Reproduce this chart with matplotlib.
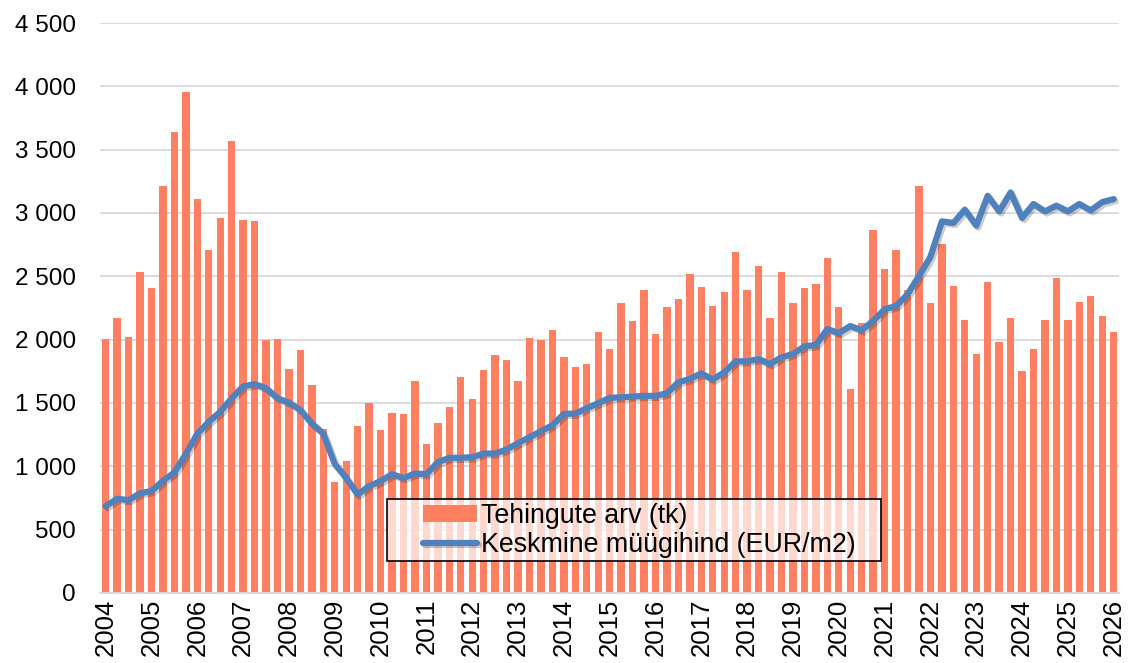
import matplotlib
matplotlib.use("Agg")
import matplotlib.pyplot as plt
import matplotlib.patheffects as pe
from matplotlib.patches import Rectangle
from matplotlib.ticker import FuncFormatter
import numpy as np

plt.rcParams['font.family'] = ['Liberation Sans', 'DejaVu Sans']

years = [str(y) for y in range(2004, 2027)]

tehingud = [2003, 2173, 2021, 2533, 2410, 3214, 3643, 3955, 3113, 2706, 2964, 3566,
            2948, 2937, 1997, 2005, 1771, 1917, 1643, 1292, 879, 1044, 1321,
            1501, 1288, 1422, 1414, 1674, 1180, 1343, 1472, 1703, 1535, 1758, 1882,
            1840, 1671, 2010, 2000, 2073, 1861, 1784, 1808, 2058, 1926,
            2286, 2150, 2394, 2047, 2260, 2318, 2518, 2413, 2265, 2376, 2694, 2394,
            2578, 2173, 2536, 2286, 2405, 2436, 2644, 2260, 1608,
            2135, 2869, 2555, 2706, 2395, 3217, 2287, 2759, 2424, 2156, 1889, 2452,
            1978, 2169, 1753, 1926, 2159, 2489, 2154, 2300, 2342, 2188, 2057]

hind = [685, 744, 733, 787, 805, 885, 952, 1098, 1258, 1351, 1431, 1537, 1631, 1649,
        1617, 1537, 1503, 1444, 1338, 1258, 1018, 907, 777,
        844, 883, 938, 907, 943, 938, 1033, 1067, 1067, 1072, 1101, 1101, 1133, 1183,
        1230, 1277, 1325, 1414, 1416, 1459, 1498, 1541,
        1545, 1551, 1556, 1556, 1577, 1664, 1690, 1734, 1685, 1742, 1829, 1829, 1847,
        1808, 1861, 1887, 1947, 1958, 2084, 2052, 2107,
        2075, 2148, 2240, 2266, 2358, 2502, 2654, 2934, 2921, 3026, 2900, 3136, 3013,
        3162, 2961, 3071, 3013, 3058, 3013, 3071, 3021, 3086, 3110]

bar_label = "Tehingute arv (tk)"
line_label = "Keskmine müügihind (EUR/m2)"

fig = plt.figure(figsize=(11.32, 6.63), dpi=100)
ax = fig.add_axes([0.0883, 0.1056, 0.9006, 0.8597])

x = np.arange(len(tehingud))
bars = ax.bar(x, tehingud, width=0.64, color='#FF7F61', label=bar_label, zorder=2)
line, = ax.plot(x, hind, color='#4F81BD', lw=4.5, label=line_label, zorder=3,
                solid_capstyle='round', solid_joinstyle='round',
                path_effects=[pe.SimpleLineShadow(offset=(1.5, -1.5), alpha=0.2), pe.Normal()])

ax.set_xlim(-0.5, len(tehingud) - 0.5)
ax.set_ylim(0, 4500)
ax.set_yticks(np.arange(0, 4501, 500))
ax.yaxis.set_major_formatter(FuncFormatter(lambda v, p: f"{int(v):,}".replace(",", " ")))
ax.set_xticks(np.arange(0, len(tehingud), 4))
ax.set_xticklabels(years, rotation=90)

ax.grid(axis='y', color='#d9d9d9', lw=1.3, zorder=0)
ax.set_axisbelow(True)
for s in ['top', 'right', 'left']:
    ax.spines[s].set_visible(False)
ax.spines['bottom'].set_color('#d9d9d9')
ax.spines['bottom'].set_linewidth(1.3)
ax.tick_params(axis='both', length=0, colors='black')
ax.tick_params(axis='y', pad=17.5, labelsize=17.5)
ax.tick_params(axis='x', pad=4, labelsize=18.5)

# legend box (fixed size, semi-transparent white with black frame)
rect = Rectangle((0.2815, 0.0561), 0.4846, 0.1088, transform=ax.transAxes,
                 facecolor='white', alpha=0.7, edgecolor='none', zorder=4)
ax.add_patch(rect)
rect_edge = Rectangle((0.2815, 0.0561), 0.4846, 0.1088, transform=ax.transAxes,
                      facecolor='none', edgecolor='black', lw=1.2, zorder=4.5)
ax.add_patch(rect_edge)

leg = ax.legend([bars, line], [bar_label, line_label], loc='upper left',
                bbox_to_anchor=(0.3168, 0.158), fontsize=19.3, frameon=False,
                handlelength=2.0, handleheight=0.55, handletextpad=0.15, borderpad=0,
                labelspacing=0.12, borderaxespad=0)
leg.set_zorder(5)

fig.savefig("out.png", dpi=100)
